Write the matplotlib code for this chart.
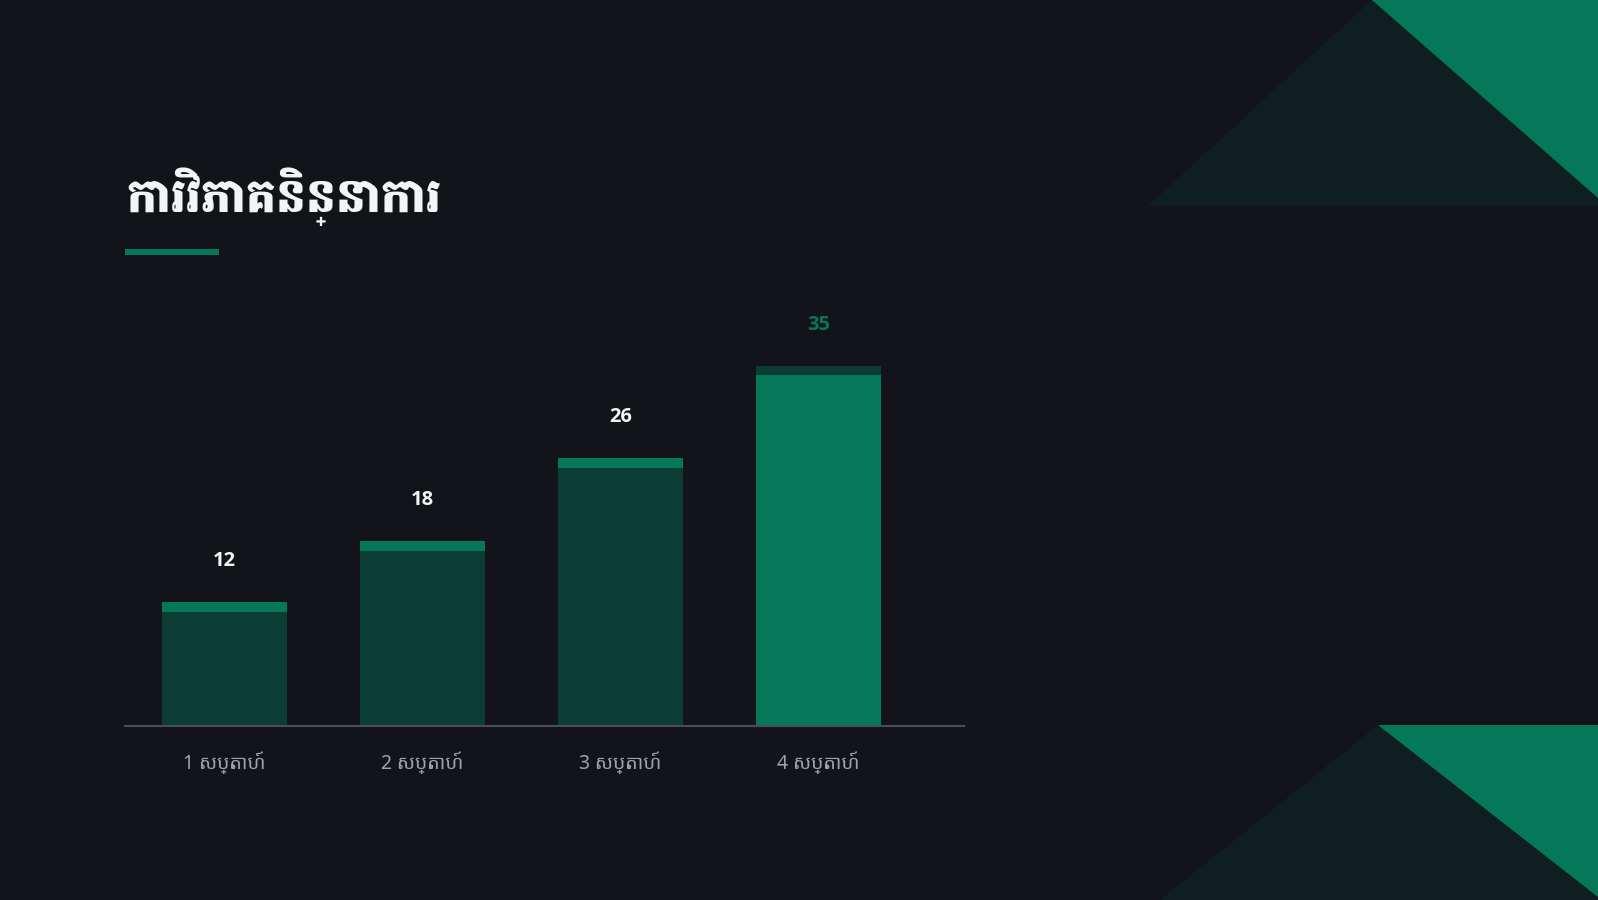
import matplotlib
matplotlib.use("Agg")
import matplotlib.pyplot as plt
from matplotlib.patches import Polygon, Rectangle

# ---- data ----
title = "ការវិភាគនិន្នាការ"
categories = ["1 សប្តាហ៍", "2 សប្តាហ៍", "3 សប្តាហ៍", "4 សប្តាហ៍"]
values = [12, 18, 26, 35]
highlight_index = 3

TITLE_FAM = ["Battambang", "Noto Sans Khmer", "DejaVu Sans"]
TICK_FAM = ["Noto Sans", "Noto Sans Khmer", "DejaVu Sans"]
NUM_FAM = ["Open Sans", "Noto Sans", "DejaVu Sans"]

BG = "#131419"
GREEN = "#047857"
DARK_BAR = "#0b3d33"
DARK_TRI = "#0f1f1f"

W, H = 1598, 900
fig = plt.figure(figsize=(W / 100, H / 100), dpi=100, facecolor=BG)

# background decoration axes in pixel coords
bg = fig.add_axes([0, 0, 1, 1])
bg.set_xlim(0, W)
bg.set_ylim(H, 0)
bg.axis("off")
bg.set_facecolor(BG)
bg.add_patch(Polygon([(1148, 206), (1372, 0), (1598, 0), (1598, 206)], closed=True, color=DARK_TRI, lw=0))
bg.add_patch(Polygon([(1372, 0), (1598, 0), (1598, 198)], closed=True, color=GREEN, lw=0))
bg.add_patch(Polygon([(1160, 900), (1378, 725), (1598, 725), (1598, 900)], closed=True, color=DARK_TRI, lw=0))
bg.add_patch(Polygon([(1378, 725), (1598, 725), (1598, 897)], closed=True, color=GREEN, lw=0))
bg.add_patch(Rectangle((125, 249), 94, 6, color=GREEN, lw=0))
bg.text(126, 212, title, color="#f3f4f6", fontsize=34, fontweight=900,
        family=TITLE_FAM, va="baseline", ha="left")

# chart axes
ax = fig.add_axes([125 / W, 174 / H, 839 / W, 412 / H])
ax.set_facecolor("none")
xs = list(range(len(values)))
bw = 0.631
cap = 0.97
ax.set_xlim(-0.5025, 3.735)
ax.set_ylim(0, 40)
for i, v in enumerate(values):
    if i == highlight_index:
        body, top, lab = GREEN, DARK_BAR, GREEN
    else:
        body, top, lab = DARK_BAR, GREEN, "#f3f4f6"
    ax.bar(xs[i], v - cap, width=bw, color=body, lw=0)
    ax.bar(xs[i], cap, bottom=v - cap, width=bw, color=top, lw=0)
    ax.annotate(str(v), (xs[i], v), xytext=(0, 41), textcoords="offset pixels",
                ha="center", va="center", color=lab, fontsize=14.5, fontweight="bold",
                family=NUM_FAM)

for s in ["top", "right", "left"]:
    ax.spines[s].set_visible(False)
ax.spines["bottom"].set_color("#4b4d55")
ax.spines["bottom"].set_linewidth(1.5)
ax.set_yticks([])
ax.set_xticks(xs)
ax.set_xticklabels(categories, color="#9ca3af", fontsize=14, family=TICK_FAM)
ax.tick_params(axis="x", length=0, pad=18)

fig.savefig("out.png", dpi=100, facecolor=BG)
